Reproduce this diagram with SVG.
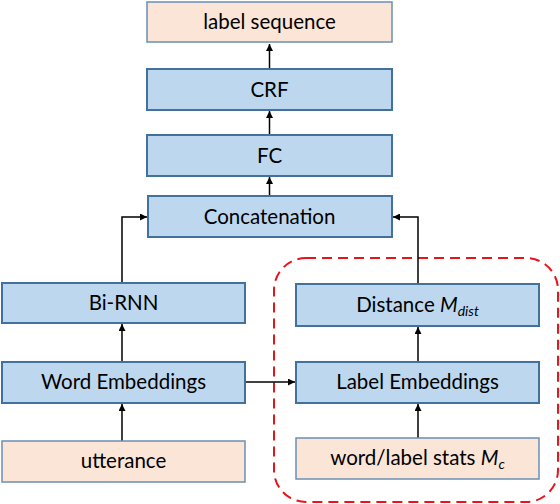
<svg xmlns="http://www.w3.org/2000/svg" width="560" height="504" viewBox="0 0 560 504">
<defs>
<style>
.b{fill:#BDD7EE;stroke:#41719C;stroke-width:2}
.p{fill:#FBE5D6;stroke:#6A8FB5;stroke-width:1.5}
.t{font-family:Lato,"Open Sans",sans-serif;font-size:20.5px;fill:#000;text-anchor:middle}
.c{fill:none;stroke:#000;stroke-width:1.5}
</style>
<marker id="a" viewBox="0 0 10 10" refX="10" refY="5" markerWidth="7" markerHeight="7" markerUnits="userSpaceOnUse" orient="auto"><path d="M0,0 L10,5 L0,10 z" fill="#000"/></marker>
</defs>
<rect x="0" y="0" width="560" height="504" fill="#fff"/>
<rect x="274" y="258" width="284" height="244" rx="32" ry="32" fill="none" stroke="#E8141C" stroke-width="2" stroke-dasharray="10,6"/>
<g id="connectors">
<line class="c" x1="269.5" y1="69" x2="269.5" y2="44" marker-end="url(#a)"/>
<line class="c" x1="269.5" y1="135" x2="269.5" y2="111" marker-end="url(#a)"/>
<line class="c" x1="269.5" y1="195" x2="269.5" y2="177" marker-end="url(#a)"/>
<polyline class="c" points="122,283 122,217 147,217" marker-end="url(#a)"/>
<polyline class="c" points="418,284 418,217 393,217" marker-end="url(#a)"/>
<line class="c" x1="122" y1="362" x2="122" y2="324" marker-end="url(#a)"/>
<line class="c" x1="122" y1="441" x2="122" y2="404" marker-end="url(#a)"/>
<line class="c" x1="245" y1="382" x2="295" y2="382" marker-end="url(#a)"/>
<line class="c" x1="418" y1="362" x2="418" y2="327" marker-end="url(#a)"/>
<line class="c" x1="418" y1="438" x2="418" y2="404" marker-end="url(#a)"/>
</g>
<g id="labelseq"><rect class="p" x="147" y="2" width="245" height="40"/><text class="t" x="269.5" y="29">label sequence</text></g>
<g id="crf"><rect class="b" x="147" y="69" width="245" height="41"/><text class="t" x="269.5" y="97">CRF</text></g>
<g id="fc"><rect class="b" x="147" y="135" width="245" height="41"/><text class="t" x="269.5" y="163">FC</text></g>
<g id="concat"><rect class="b" x="148" y="196" width="244" height="41"/><text class="t" x="269.5" y="224">Concatenation</text></g>
<g id="birnn"><rect class="b" x="2" y="283" width="243" height="40"/><text class="t" x="123.5" y="310">Bi-RNN</text></g>
<g id="wordemb"><rect class="b" x="2" y="362" width="243" height="41"/><text class="t" x="123.5" y="389">Word Embeddings</text></g>
<g id="utterance"><rect class="p" x="2" y="441" width="243" height="41"/><text class="t" x="123.5" y="468">utterance</text></g>
<g id="distance"><rect class="b" x="296" y="284" width="243" height="42"/><text class="t" x="417.5" y="312">Distance <tspan font-style="italic">M</tspan><tspan font-style="italic" font-size="14px" dy="4">dist</tspan></text></g>
<g id="labelemb"><rect class="b" x="296" y="362" width="243" height="41"/><text class="t" x="417.5" y="389">Label Embeddings</text></g>
<g id="stats"><rect class="p" x="296" y="438" width="243" height="41"/><text class="t" x="417.5" y="465">word/label stats <tspan font-style="italic">M</tspan><tspan font-style="italic" font-size="14px" dy="4">c</tspan></text></g>
</svg>
